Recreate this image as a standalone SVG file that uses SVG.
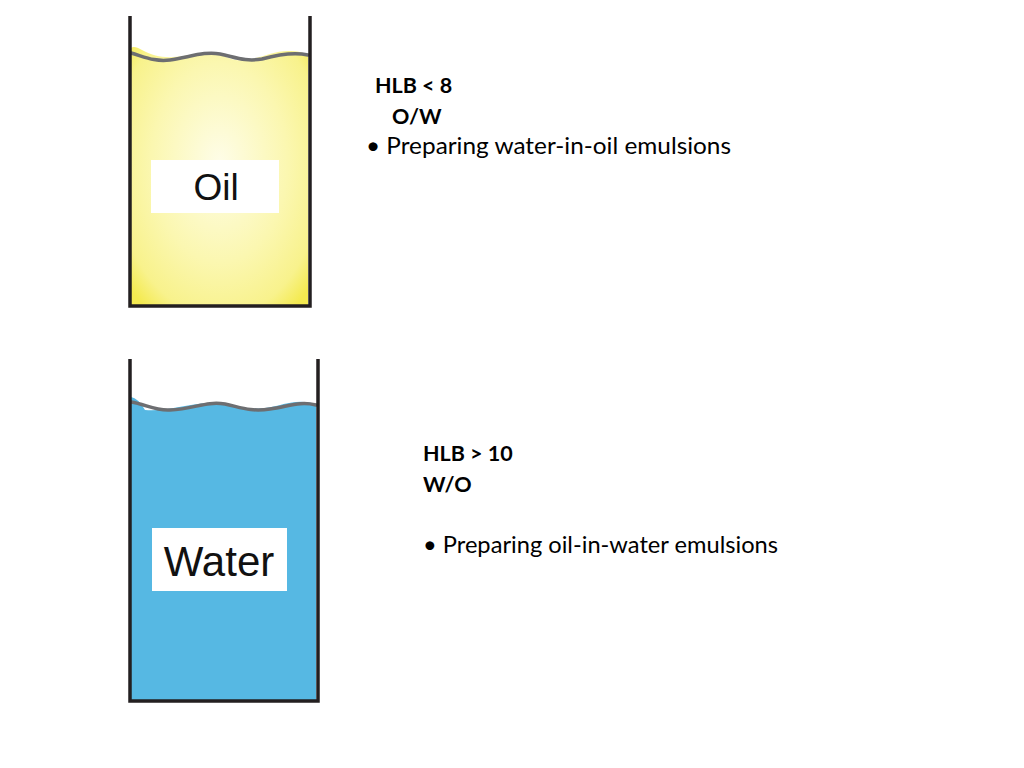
<svg xmlns="http://www.w3.org/2000/svg" width="1024" height="768" viewBox="0 0 1024 768">
<defs>
<radialGradient id="oilg" cx="0.5" cy="0.45" r="0.7">
<stop offset="0" stop-color="#fefde8"/>
<stop offset="0.55" stop-color="#fbf7b0"/>
<stop offset="0.85" stop-color="#f8f28c"/>
<stop offset="1" stop-color="#f4ea50"/>
</radialGradient>
<style>
.wall{fill:none;stroke:#231f20;stroke-width:3.5}
.wave{fill:none;stroke:#6d6e71;stroke-width:3.5;stroke-linecap:round}
.lbl{fill:#ffffff}
.lt{font-family:"Liberation Sans",Arial,sans-serif;fill:#111111;text-anchor:middle}
.t{font-family:Lato,"Noto Sans",sans-serif;fill:#000000;font-size:24px}
.b{font-weight:bold;font-size:21.5px}
</style>
</defs>
<g id="oil-beaker">
<path d="M131,48 Q134,45 142,50 C160,60 175,58 200,53 C225,48 222,62 245,60 C265,58 275,48 300,52 L308,55 L308,305 L131,305 Z" fill="url(#oilg)"/>
<path class="wave" d="M131,53 C145,57 155,62 170,60 C190,57 205,51 220,54 C235,57 245,62 262,59 C280,54 295,52 308,55"/>
<rect class="lbl" x="151" y="160" width="128" height="53"/>
<text class="lt" x="216" y="200" font-size="37">Oil</text>
<path class="wall" d="M130,16 L130,306 L310,306 L310,16"/>
</g>
<g id="water-beaker">
<path d="M131,397 Q138,398 145,410 C165,412 185,404 210,403 C235,402 240,411 265,408 C285,405 295,398 316,404 L316,700 L131,700 Z" fill="#56b8e3"/>
<path class="wave" d="M131,402 C145,404 155,411 170,410 C195,409 205,401 225,404 C240,407 250,412 270,409 C290,406 300,401 316,405"/>
<rect class="lbl" x="152" y="528" width="135" height="63"/>
<text class="lt" x="219" y="576" font-size="42">Water</text>
<path class="wall" d="M130,359 L130,701 L318,701 L318,359"/>
</g>
<g id="text-top">
<text class="t b" x="375" y="93">HLB &lt; 8</text>
<text class="t b" x="392" y="124">O/W</text>
<text class="t" x="366" y="154" textLength="365" lengthAdjust="spacingAndGlyphs">• Preparing water-in-oil emulsions</text>
</g>
<g id="text-bottom">
<text class="t b" x="423" y="461">HLB &gt; 10</text>
<text class="t b" x="423" y="492">W/O</text>
<text class="t" x="423" y="553" textLength="355" lengthAdjust="spacingAndGlyphs">• Preparing oil-in-water emulsions</text>
</g>
<g id="connectors"/>
</svg>
